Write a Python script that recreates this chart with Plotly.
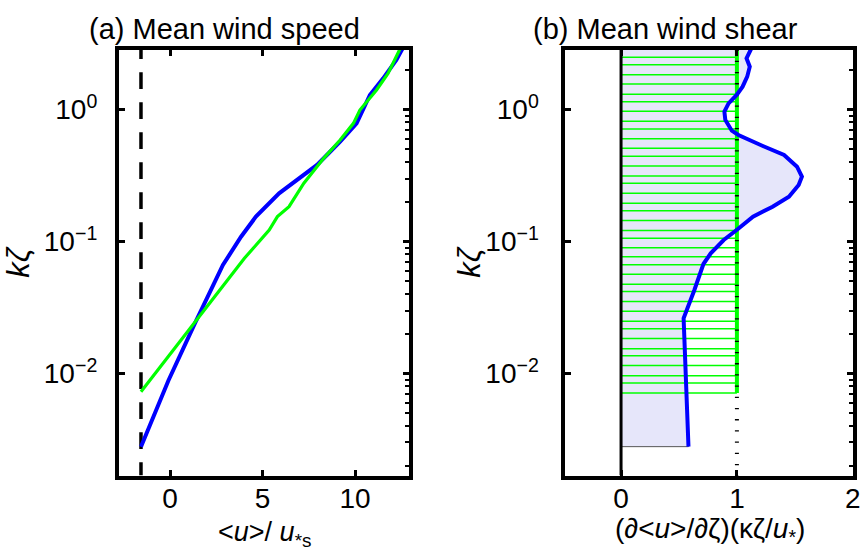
import plotly.graph_objects as go

W, H = 868, 550
FONT = "Liberation Sans, Arial, sans-serif"

# ---------------- data: panel (a) mean wind speed ----------------
u_les = [-1.575, -0.091, 1.339, 2.855, 3.835, 4.638, 5.892, 7.049, 7.943,
         8.570, 9.191, 10.08, 10.80, 11.52, 12.23, 12.67]
kz_les = [0.00279, 0.00885, 0.0240, 0.0664, 0.1086, 0.1542, 0.2317, 0.3097,
          0.380, 0.466, 0.570, 0.785, 1.288, 1.722, 2.371, 3.083]

u_loglaw = [-1.575, 1.516, 4.017, 5.356, 5.80, 6.427, 7.23, 8.30, 9.19,
            9.91, 10.26, 11.16, 11.78, 12.40, 12.55]
kz_loglaw = [0.00728, 0.0262, 0.0746, 0.1222, 0.1542, 0.1837, 0.2761, 0.4266,
             0.5875, 0.785, 0.991, 1.406, 1.879, 2.825, 3.083]

u_surface = -1.575  # dashed reference line

# ---------------- data: panel (b) mean wind shear ----------------
shear_les = [0.582, 0.549, 0.540, 0.633, 0.711, 0.774, 0.886, 0.998, 1.139,
             1.308, 1.449, 1.533, 1.561, 1.519, 1.407, 1.224, 1.083, 1.013,
             0.956, 0.900, 0.892, 0.928, 0.998, 1.049, 1.089, 1.111, 1.083, 1.125]
kz_shear = [0.00279, 0.01507, 0.0262, 0.0429, 0.0675, 0.0814, 0.1026, 0.1222,
            0.1541, 0.1835, 0.2185, 0.268, 0.310, 0.369, 0.452, 0.529, 0.594,
            0.641, 0.691, 0.833, 0.962, 1.114, 1.288, 1.488, 1.772, 2.110,
            2.443, 2.909]

hatch_kz = [2.911, 2.483, 2.183, 1.837, 1.560, 1.303, 1.146, 0.968, 0.815,
            0.711, 0.601, 0.508, 0.442, 0.373, 0.313, 0.276, 0.232, 0.195,
            0.171, 0.144, 0.121, 0.106, 0.0895, 0.0767, 0.0667, 0.0565, 0.0474,
            0.0417, 0.0351, 0.0296, 0.0249, 0.0218, 0.0184, 0.0154, 0.0136,
            0.0115, 0.00962, 0.00847, 0.00711]
shear_loglaw = 1.0
kz_loglaw_bottom = 0.00711

y_tickvals = [1, 0.1, 0.01]
y_ticktext = ["10<sup>0</sup>", "10<sup>\u22121</sup>", "10<sup>\u22122</sup>"]
xa_tickvals = [0, 5, 10]
xb_tickvals = [0, 1, 2]

# ---------------- layout geometry ----------------
Y_RANGE = [-2.773, 0.4545]
XA_RANGE = [-2.769, 12.887]
XB_RANGE = [-0.48, 2.0]
ydom = [(H - 475.5) / H, (H - 49.5) / H]
xa_dom = [120 / W, 412.3 / W]
xb_dom = [570.7 / W, 860.7 / W]

y_top = 10 ** Y_RANGE[1]
y_bot = 10 ** Y_RANGE[0]

BLUE = "#0000ff"
GREEN = "#00ff00"

fig = go.Figure()

# ---- panel (a)
fig.add_trace(go.Scatter(x=[u_surface, u_surface], y=[10 ** (Y_RANGE[1] + 0.055), y_bot],
                         mode="lines", line=dict(color="black", width=3.5, dash="16.7px,13.3px"),
                         xaxis="x", yaxis="y", hoverinfo="skip"))
fig.add_trace(go.Scatter(x=u_les, y=kz_les, mode="lines",
                         line=dict(color=BLUE, width=4), xaxis="x", yaxis="y"))
fig.add_trace(go.Scatter(x=u_loglaw, y=kz_loglaw, mode="lines",
                         line=dict(color=GREEN, width=3.2), xaxis="x", yaxis="y"))
fig.add_trace(go.Scatter(x=[u_les[0]], y=[kz_les[0]], mode="markers",
                         marker=dict(opacity=0), xaxis="x", yaxis="y3", hoverinfo="skip"))

# ---- panel (b)
fill_x = [0] + shear_les + [0, 0]
fill_y = [kz_shear[0]] + kz_shear + [kz_shear[-1], kz_shear[0]]
fig.add_trace(go.Scatter(x=fill_x, y=fill_y, mode="lines", fill="toself",
                         fillcolor="#e6e6fa", line=dict(color="#555555", width=1),
                         xaxis="x2", yaxis="y2", hoverinfo="skip"))
hx, hy = [], []
for z in hatch_kz:
    hx += [0, shear_loglaw, None]
    hy += [z, z, None]
fig.add_trace(go.Scatter(x=hx, y=hy, mode="lines", line=dict(color=GREEN, width=1.5),
                         xaxis="x2", yaxis="y2", hoverinfo="skip"))
fig.add_trace(go.Scatter(x=[shear_loglaw, shear_loglaw], y=[kz_loglaw_bottom, y_top * 1.05],
                         mode="lines", line=dict(color=GREEN, width=4),
                         xaxis="x2", yaxis="y2", hoverinfo="skip"))
fig.add_trace(go.Scatter(x=[0, 0], y=[y_bot, y_top * 1.05], mode="lines",
                         line=dict(color="black", width=3), xaxis="x2", yaxis="y2", hoverinfo="skip"))
fig.add_trace(go.Scatter(x=[shear_loglaw, shear_loglaw], y=[y_top, y_bot], mode="lines",
                         line=dict(color="black", width=4, dash="1.3px,9.9px"),
                         xaxis="x2", yaxis="y2", hoverinfo="skip"))
fig.add_trace(go.Scatter(x=shear_les, y=kz_shear, mode="lines",
                         line=dict(color=BLUE, width=4), xaxis="x2", yaxis="y2"))
fig.add_trace(go.Scatter(x=[shear_les[0]], y=[kz_shear[0]], mode="markers",
                         marker=dict(opacity=0), xaxis="x2", yaxis="y4", hoverinfo="skip"))

tickfont = dict(family=FONT, size=28, color="black")
minor_vals = [m * 10.0 ** e for e in (-3, -2, -1, 0) for m in range(2, 10)]

def xaxis(dom, rng, tv, anchor):
    return dict(domain=dom, range=rng, anchor=anchor, tickmode="array", tickvals=tv,
                ticks="inside", ticklen=6, tickwidth=3, tickcolor="black",
                showline=True, linewidth=4, linecolor="black", mirror="ticks",
                showgrid=False, zeroline=False, tickfont=tickfont,
                ticklabelstandoff=-5, ticklabeloverflow="allow")

def yaxis_main(anchor, standoff):
    return dict(domain=ydom, type="log", range=Y_RANGE, anchor=anchor,
                tickmode="array", tickvals=y_tickvals, ticktext=y_ticktext,
                ticks="inside", ticklen=6, tickwidth=3, tickcolor="black",
                showline=True, linewidth=4, linecolor="black", mirror=True,
                showgrid=False, zeroline=False, tickfont=tickfont,
                ticklabelstandoff=standoff)

def yaxis_right(over, anchor):
    return dict(domain=ydom, type="log", range=Y_RANGE, anchor=anchor, overlaying=over,
                side="right", tickmode="array", tickvals=y_tickvals,
                ticks="inside", ticklen=6, tickwidth=3, tickcolor="black",
                showticklabels=False, showline=False, showgrid=False, zeroline=False,
                minor=dict(tickmode="array", tickvals=minor_vals, ticks="inside",
                           ticklen=4, tickwidth=2, tickcolor="black", showgrid=False))

ann = []
def add_text(text, px, py, size, angle=0):
    ann.append(dict(text=text, x=px / W, y=1 - py / H, xref="paper", yref="paper",
                    showarrow=False, xanchor="center", yanchor="middle", textangle=angle,
                    font=dict(family=FONT, size=size, color="black")))

add_text("(a) Mean wind speed", 227, 29, 29)
add_text("(b) Mean wind shear", 672, 29, 29)
add_text("&lt;<i>u</i>&gt;/ <i>u</i><sub>*s</sub>", 267, 534, 27)
add_text("(\u2202&lt;<i>u</i>&gt;/\u2202\u03b6)(\u03ba\u03b6/<i>u</i><sub>*</sub>)", 717, 530, 28)
add_text("<i>k\u03b6</i>", 18, 262, 31, -90)
add_text("<i>k\u03b6</i>", 473, 262, 31, -90)

fig.update_layout(
    width=W, height=H, margin=dict(l=0, r=0, t=0, b=0),
    paper_bgcolor="white", plot_bgcolor="white", showlegend=False,
    font=dict(family=FONT, color="black"),
    xaxis=xaxis(xa_dom, XA_RANGE, xa_tickvals, "y"),
    yaxis=yaxis_main("x", 12),
    yaxis3=yaxis_right("y", "x"),
    xaxis2=xaxis(xb_dom, XB_RANGE, xb_tickvals, "y2"),
    yaxis2=yaxis_main("x2", 17),
    yaxis4=yaxis_right("y2", "x2"),
    annotations=ann,
)

fig.write_html("out.html", config={"displayModeBar": False},
               post_script="document.body.style.margin='0px';")
